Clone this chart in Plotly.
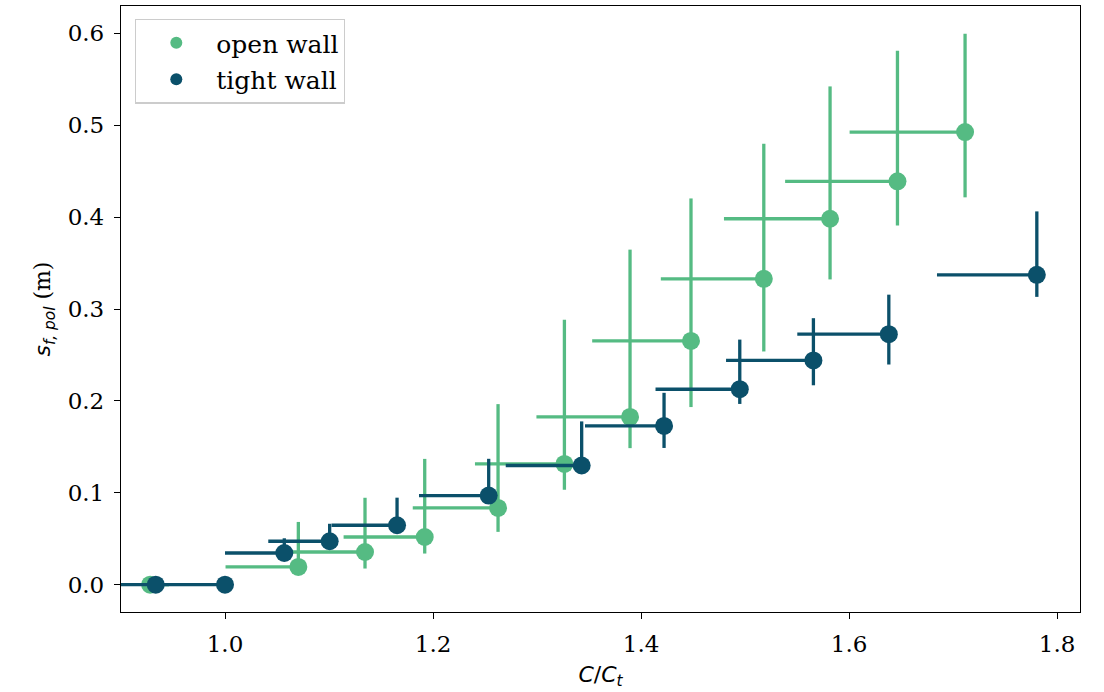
import plotly.graph_objects as go

# ---- data ----
open_x = [0.928, 1.0705, 1.1346, 1.192, 1.2625, 1.3263, 1.3894, 1.448, 1.518, 1.5817, 1.6465, 1.7115]
open_y = [0.0, 0.0193, 0.0356, 0.0519, 0.0835, 0.1314, 0.1826, 0.2653, 0.3328, 0.3982, 0.4389, 0.4925]
open_xerr_minus = [0.0, 0.070, 0.071, 0.078, 0.082, 0.086, 0.090, 0.095, 0.099, 0.102, 0.108, 0.111]
open_xerr_plus = [0.018, 0, 0, 0, 0, 0, 0, 0, 0, 0, 0, 0]
open_yerr_plus = [0.0, 0.049, 0.059, 0.085, 0.113, 0.157, 0.182, 0.155, 0.147, 0.144, 0.142, 0.107]
open_yerr_minus = [0.0, 0.0, 0.018, 0.018, 0.026, 0.028, 0.034, 0.072, 0.079, 0.066, 0.048, 0.071]

tight_x = [0.9334, 1.0, 1.057, 1.1006, 1.1654, 1.2535, 1.3429, 1.4221, 1.4949, 1.5657, 1.6382, 1.7805]
tight_y = [0.0, 0.0, 0.0345, 0.0473, 0.0647, 0.097, 0.1297, 0.1728, 0.2127, 0.244, 0.2726, 0.3372]
tight_xerr_minus = [0.06, 0.067, 0.057, 0.059, 0.063, 0.067, 0.073, 0.076, 0.081, 0.084, 0.088, 0.096]
tight_xerr_plus = [0] * 12
tight_yerr_plus = [0.0, 0.0, 0.016, 0.019, 0.030, 0.040, 0.048, 0.036, 0.054, 0.046, 0.043, 0.069]
tight_yerr_minus = [0.0, 0.0, 0.0, 0.0, 0.0, 0.0, 0.0, 0.024, 0.016, 0.027, 0.033, 0.024]

series_names = ["open wall", "tight wall"]
colors = ["#55bb83", "#0b506a"]

x_ticks = [1.0, 1.2, 1.4, 1.6, 1.8]
y_ticks = [0.0, 0.1, 0.2, 0.3, 0.4, 0.5, 0.6]

SERIF = "DejaVu Serif"
SANS = "DejaVu Sans"

fig = go.Figure()
for i, (name, col, xs, ys, xm, xp, yp, ym) in enumerate([
    (series_names[0], colors[0], open_x, open_y, open_xerr_minus, open_xerr_plus, open_yerr_plus, open_yerr_minus),
    (series_names[1], colors[1], tight_x, tight_y, tight_xerr_minus, tight_xerr_plus, tight_yerr_plus, tight_yerr_minus),
]):
    fig.add_trace(go.Scatter(
        x=xs, y=ys, mode="markers", name=name, legendgroup=f"g{i}",
        marker=dict(color=col, size=18, line=dict(width=0)),
        error_x=dict(type="data", symmetric=False, array=xp, arrayminus=xm,
                     color=col, thickness=3.3, width=0),
        error_y=dict(type="data", symmetric=False, array=yp, arrayminus=ym,
                     color=col, thickness=3.3, width=0),
        cliponaxis=True,
    ))

axis_common = dict(
    showline=True, linecolor="black", linewidth=1.3, mirror=True,
    ticks="outside", ticklen=6, tickwidth=1.3, tickcolor="black",
    showgrid=False, zeroline=False,
    tickfont=dict(family=SERIF, size=23, color="black"),
    ticklabelstandoff=5,
)

fig.update_layout(
    width=1104, height=692,
    margin=dict(l=121, r=24, t=6, b=80),
    paper_bgcolor="white", plot_bgcolor="white",
    font=dict(family=SERIF, size=22, color="black"),
    xaxis=dict(range=[0.9, 1.822], tickvals=x_ticks, tickformat=".1f",
               title=dict(text=f'<span style="font-family:{SANS}"><i>C</i>/<i>C</i><sub><i>t</i></sub></span>',
                          font=dict(family=SANS, size=22), standoff=10),
               **axis_common),
    yaxis=dict(range=[-0.0297, 0.6297], tickvals=y_ticks, tickformat=".1f",
               title=dict(text=f'<span style="font-family:{SANS}"><i>s</i><sub><i>f, pol</i></sub></span> (m)',
                          font=dict(family=SERIF, size=22), standoff=10),
               **axis_common),
    legend=dict(x=0.0146, y=0.979, xanchor="left", yanchor="top",
                bgcolor="white", bordercolor="#cccccc", borderwidth=1.3,
                font=dict(family=SERIF, size=25), itemsizing="constant",
                itemwidth=70, traceorder="grouped", tracegroupgap=1),
    showlegend=True,
)

fig.write_html("out.html")
